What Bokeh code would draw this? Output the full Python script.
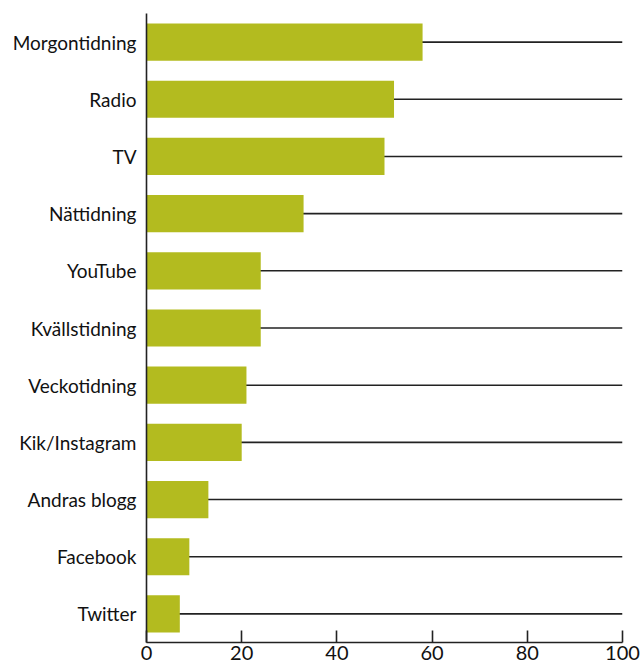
from bokeh.plotting import figure
from bokeh.models import FixedTicker, Range1d, FactorRange
from bokeh.embed import file_html
from bokeh.resources import INLINE

categories = ["Morgontidning", "Radio", "TV", "Nättidning", "YouTube", "Kvällstidning",
              "Veckotidning", "Kik/Instagram", "Andras blogg", "Facebook", "Twitter"]
values = [58, 52, 50, 33, 24, 24, 21, 20, 13, 9, 7]
x_ticks = [0, 20, 40, 60, 80, 100]

bar_color = "#b3bb1f"
font = "Lato"

p = figure(width=642, height=669, output_backend="svg", toolbar_location=None,
           y_range=FactorRange(factors=list(reversed(categories)), range_padding=0),
           x_range=Range1d(0, 100),
           min_border_left=146, min_border_right=20, min_border_top=13, min_border_bottom=27)
p.outline_line_color = None
p.grid.visible = False
p.background_fill_color = "white"

p.segment(x0=[0] * len(categories), y0=categories, x1=[100] * len(categories), y1=categories,
          line_color="#222222", line_width=1.6)
p.hbar(y=categories, right=values, left=0, height=0.65, fill_color=bar_color, line_color=None)

xa = p.xaxis[0]
xa.ticker = FixedTicker(ticks=x_ticks)
xa.major_tick_in = 12
xa.major_tick_out = 0
xa.minor_tick_line_color = None
xa.axis_line_color = "#222222"
xa.axis_line_width = 1.6
xa.major_tick_line_color = "#222222"
xa.major_tick_line_width = 1.6
xa.major_label_text_font = font
xa.major_label_text_font_size = "20px"
xa.major_label_text_color = "#111111"
xa.major_label_standoff = 3

ya = p.yaxis[0]
ya.major_tick_line_color = None
ya.minor_tick_line_color = None
ya.axis_line_color = "#222222"
ya.axis_line_width = 1.6
ya.major_label_text_font = font
ya.major_label_text_font_size = "19px"
ya.major_label_text_color = "#111111"
ya.major_label_standoff = 4

open("out.html", "w").write(file_html(p, INLINE))
